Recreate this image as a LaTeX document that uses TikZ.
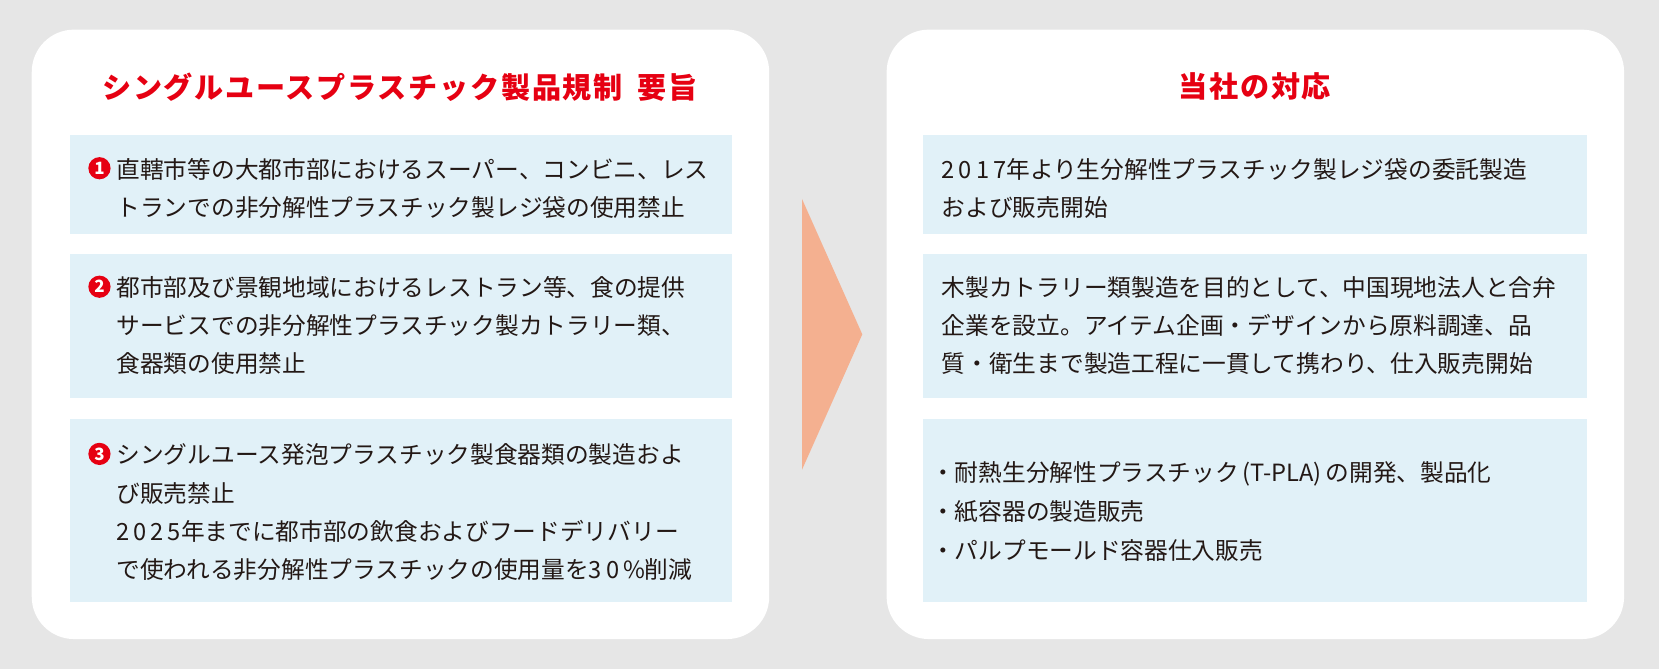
\documentclass[tikz,border=0pt]{standalone}
\usepackage{fontspec}
\setmainfont{Noto Sans CJK JP}
\definecolor{bg}{HTML}{E6E6E6}
\definecolor{boxc}{HTML}{E1F1F8}
\definecolor{redc}{HTML}{E60012}
\definecolor{arr}{HTML}{F4B090}
\definecolor{txt}{HTML}{231815}
\begin{document}
\begin{tikzpicture}[x=1pt,y=-1pt,
  panel/.style={fill=white,rounded corners=40pt},
  infobox/.style={fill=boxc},
  ln/.style={anchor=west,inner sep=0pt,text=txt,font=\fontsize{22.4}{26}\selectfont},
  ttl/.style={text=redc,font=\fontsize{27.5}{30}\selectfont\bfseries},
  num/.style={circle,fill=redc,text=white,inner sep=0pt,minimum size=21pt,font=\fontsize{16}{16}\selectfont\bfseries}]
\fill[bg] (0,0) rectangle (1568,632);
\useasboundingbox (0,0) rectangle (1568,632);
\fill[panel] (30,28) rectangle (727,604);
\fill[panel] (838,28) rectangle (1535,604);
\node[ttl] (t1) at (378,82) {\addfontfeatures{LetterSpace=6}シングルユースプラスチック製品規制\hspace{14pt}要旨};
\node[ttl] (t2) at (1186,82) {\addfontfeatures{LetterSpace=6}当社の対応};
\fill[infobox] (66,128) rectangle (692,221);
\fill[infobox] (66,240) rectangle (692,376);
\fill[infobox] (66,396) rectangle (692,569);
\fill[infobox] (872,128) rectangle (1500,221);
\fill[infobox] (872,240) rectangle (1500,376);
\fill[infobox] (872,396) rectangle (1500,569);
\fill[arr] (758,188) -- (815,316) -- (758,444) -- cycle;
\node[num] (n1) at (94,159) {1};
\node[num] (n2) at (94,271) {2};
\node[num] (n3) at (94,429) {3};
\node[ln] (a1) at (110,160) {直轄市等の大都市部におけるスーパー、コンビニ、レス};
\node[ln] (a2) at (110,196) {トランでの非分解性プラスチック製レジ袋の使用禁止};
\node[ln] (b1) at (110,272) {都市部及び景観地域におけるレストラン等、食の提供};
\node[ln] (b2) at (110,308) {サービスでの非分解性プラスチック製カトラリー類、};
\node[ln] (b3) at (110,344) {食器類の使用禁止};
\node[ln] (c1) at (110,430) {シングルユース発泡プラスチック製食器類の製造およ};
\node[ln] (c2) at (110,466) {び販売禁止};
\node[ln] (c3) at (110,502) {2\,0\,2\,5年までに都市部の飲食およびフードデリバリー};
\node[ln] (c4) at (110,538) {で使われる非分解性プラスチックの使用量を3\,0\,\%削減};
\node[ln] (d1) at (890,160) {2\,0\,1\,7年より生分解性プラスチック製レジ袋の委託製造};
\node[ln] (d2) at (890,196) {および販売開始};
\node[ln] (e1) at (890,272) {木製カトラリー類製造を目的として、中国現地法人と合弁};
\node[ln] (e2) at (890,308) {企業を設立。アイテム企画・デザインから原料調達、品};
\node[ln] (e3) at (890,344) {質・衛生まで製造工程に一貫して携わり、仕入販売開始};
\node[ln] (f1) at (880,448) {・耐熱生分解性プラスチック\,(T-PLA)\,の開発、製品化};
\node[ln] (f2) at (880,484) {・紙容器の製造販売};
\node[ln] (f3) at (880,520) {・パルプモールド容器仕入販売};
\end{tikzpicture}
\end{document}
